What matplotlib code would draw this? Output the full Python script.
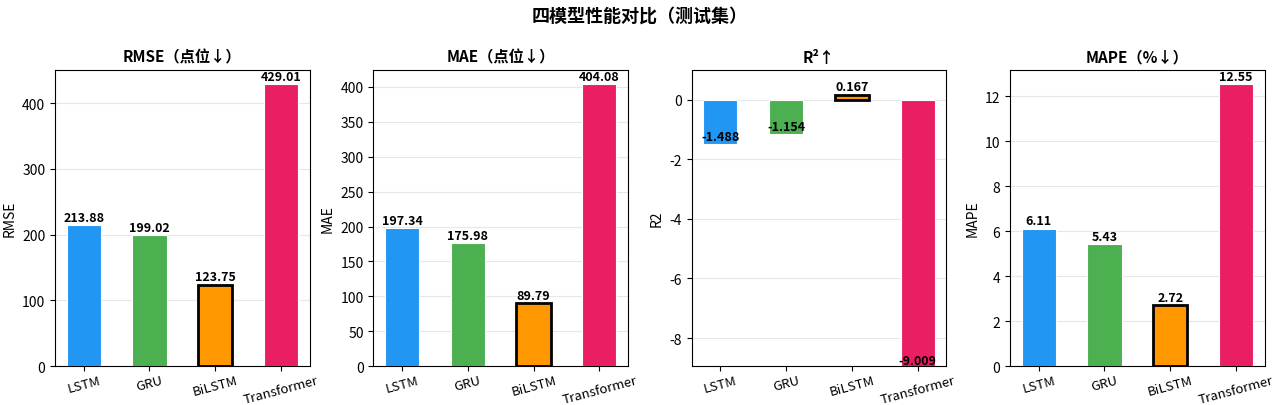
import numpy as np
import matplotlib
matplotlib.use('Agg')
import matplotlib.pyplot as plt

plt.rcParams['font.family'] = ['Noto Sans CJK SC', 'DejaVu Sans']
plt.rcParams['axes.unicode_minus'] = False

models = ['LSTM', 'GRU', 'BiLSTM', 'Transformer']
colors = ['#2196F3', '#4CAF50', '#FF9800', '#E91E63']

rmse = [213.88, 199.02, 123.75, 429.01]
mae = [197.34, 175.98, 89.79, 404.08]
r2 = [-1.488, -1.154, 0.167, -9.009]
mape = [6.11, 5.43, 2.72, 12.55]

metrics = [
    ('RMSE（点位↓）', 'RMSE', rmse, '{:.2f}'),
    ('MAE（点位↓）', 'MAE', mae, '{:.2f}'),
    ('R²↑', 'R2', r2, '{:.3f}'),
    ('MAPE（%↓）', 'MAPE', mape, '{:.2f}'),
]
best = 2  # BiLSTM

fig, axes = plt.subplots(1, 4, figsize=(12.8, 4.06), dpi=100)
fig.subplots_adjust(left=0.043, right=0.988, top=0.825, bottom=0.096, wspace=0.25)
fig.suptitle('四模型性能对比（测试集）', fontsize=13, fontweight='bold', y=0.985)

x = np.arange(len(models))
for ax, (title, ylab, vals, fmt) in zip(axes, metrics):
    bars = ax.bar(x, vals, width=0.52, color=colors, edgecolor='white', linewidth=0.8, zorder=2)
    bars[best].set_edgecolor('black')
    bars[best].set_linewidth(2)
    for b, v in zip(bars, vals):
        ax.annotate(fmt.format(v), (b.get_x() + b.get_width() / 2, v),
                    xytext=(0, 1), textcoords='offset points', annotation_clip=False,
                    ha='center', va='bottom', fontsize=9, fontweight='bold', zorder=3)
    ax.set_title(title, fontsize=11, fontweight='bold')
    ax.set_ylabel(ylab, fontsize=10)
    ax.set_xticks(x)
    ax.set_xticklabels(models, rotation=15, fontsize=9.5)
    ax.tick_params(axis='x', pad=2)
    ax.grid(axis='y', alpha=0.3, zorder=0)
    ax.set_axisbelow(True)
    if min(vals) >= 0:
        ax.set_ylim(0, max(vals) * 1.05)
    else:
        ax.set_ylim(-8.94, 1.0)

fig.savefig('out.png', dpi=100)
